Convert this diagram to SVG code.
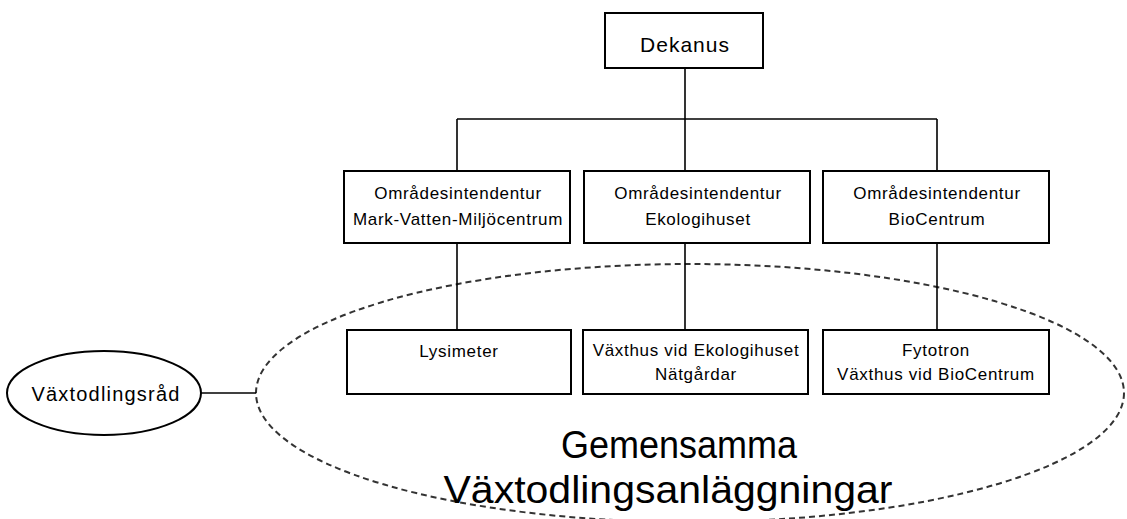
<svg xmlns="http://www.w3.org/2000/svg" width="1127" height="519" viewBox="0 0 1127 519">
<style>
.box{fill:#fff;stroke:#000;stroke-width:2}
.ln{stroke:#000;stroke-width:1.6;fill:none}
.t{font-family:"Liberation Sans",Arial,sans-serif;font-size:17px;letter-spacing:0.7px;text-anchor:middle;fill:#000}
.big{font-family:"Liberation Sans",Arial,sans-serif;font-size:38px;text-anchor:middle;fill:#000}
</style>
<rect width="1127" height="519" fill="#fff"/>
<g id="group-ellipse">
<ellipse cx="690" cy="393" rx="434" ry="129" fill="none" stroke="#333" stroke-width="2" stroke-dasharray="6,4"/>
</g>
<g id="connectors">
<line class="ln" x1="685" y1="68" x2="685" y2="171"/>
<line class="ln" x1="457" y1="119" x2="937" y2="119"/>
<line class="ln" x1="457" y1="119" x2="457" y2="171"/>
<line class="ln" x1="937" y1="119" x2="937" y2="171"/>
<line class="ln" x1="457" y1="243" x2="457" y2="330"/>
<line class="ln" x1="685" y1="243" x2="685" y2="330"/>
<line class="ln" x1="937" y1="243" x2="937" y2="330"/>
<line class="ln" x1="200" y1="393" x2="256" y2="393"/>
</g>
<g id="dekanus">
<rect class="box" x="605" y="13" width="158" height="55"/>
<text class="t" x="685" y="52" style="font-size:21px;letter-spacing:1px">Dekanus</text>
</g>
<g id="omr-mvm">
<rect class="box" x="344" y="171" width="226" height="72"/>
<text class="t" x="458" y="199">Områdesintendentur</text>
<text class="t" x="458" y="225">Mark-Vatten-Miljöcentrum</text>
</g>
<g id="omr-eko">
<rect class="box" x="584" y="171" width="226" height="72"/>
<text class="t" x="698" y="199">Områdesintendentur</text>
<text class="t" x="698" y="225">Ekologihuset</text>
</g>
<g id="omr-bio">
<rect class="box" x="823" y="171" width="226" height="72"/>
<text class="t" x="937" y="199">Områdesintendentur</text>
<text class="t" x="937" y="225">BioCentrum</text>
</g>
<g id="lysimeter">
<rect class="box" x="347" y="330" width="224" height="64"/>
<text class="t" x="459" y="357">Lysimeter</text>
</g>
<g id="vaxthus-eko">
<rect class="box" x="583" y="330" width="225" height="64"/>
<text class="t" x="696" y="356">Växthus vid Ekologihuset</text>
<text class="t" x="696" y="380">Nätgårdar</text>
</g>
<g id="fytotron">
<rect class="box" x="823" y="330" width="226" height="64"/>
<text class="t" x="936" y="356">Fytotron</text>
<text class="t" x="936" y="380">Växthus vid BioCentrum</text>
</g>
<g id="vaxtodlingsrad">
<ellipse cx="104" cy="393" rx="97" ry="42" fill="#fff" stroke="#000" stroke-width="2"/>
<text class="t" x="106" y="401" style="font-size:20px;letter-spacing:1.2px">Växtodlingsråd</text>
</g>
<g id="label">
<text class="big" x="679" y="458" textLength="236" lengthAdjust="spacingAndGlyphs">Gemensamma</text>
<text class="big" x="668" y="503" textLength="449" lengthAdjust="spacingAndGlyphs">Växtodlingsanläggningar</text>
</g>
</svg>
